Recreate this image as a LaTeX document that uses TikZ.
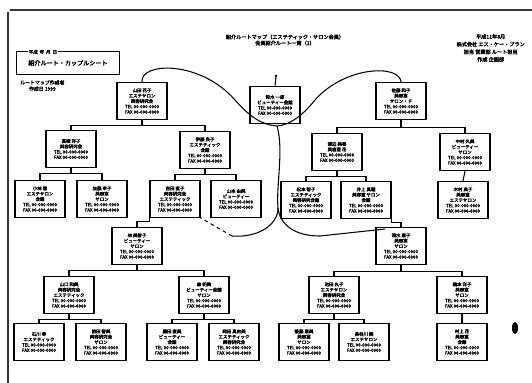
\documentclass[tikz,border=0pt]{standalone}
\usepackage{fontspec}
\newfontfamily\jpfont[FakeBold=3]{Noto Sans CJK JP}
\usepackage{tikz}
\usetikzlibrary{positioning}
\newcommand{\telfax}{TEL\ 00-000-0000\\FAX\ 00-000-0000}

\begin{document}
\begin{tikzpicture}[x=0.3mm, y=-0.3mm, font=\jpfont\fontsize{3.8}{4.6}\selectfont,
  card/.style={draw, line width=1pt, align=center, minimum width=15mm, minimum height=11mm, inner sep=1pt},
  bus/.style={line width=0.9pt},
  swing/.style={line width=0.9pt},
  note/.style={align=center, inner sep=0pt}]
\useasboundingbox (0,0) rectangle (532,383);
% frame of the sheet
\draw[line width=1.4pt, black!80] (10,10) -- (532,10);
\draw[line width=1pt, black!80] (8,12) -- (8,383);
% heading texts
\node[note, font=\jpfont\fontsize{4.4}{5.2}\selectfont] (title) at (285,40) {紹介ルートマップ（エステティック・サロン会員）\\会員紹介ルート一覧（1）};
\node[note, anchor=north east, font=\jpfont\fontsize{4.4}{6.5}\selectfont] (date) at (525,34) {平成11年8月\\株式会社 エス・ケー・プラン\\担当 営業部 ルート担当\\作成 企画部};
\node[draw, line width=0.9pt, minimum width=31mm, minimum height=7mm, font=\jpfont\fontsize{5.2}{6}\selectfont] (tag) at (68,63) {紹介ルート・カップルシート};
\node[fill=white, inner sep=0.5pt, anchor=west] (stamp) at (28,52) {平成\ \ 年\ \ 月\ \ 日};
\node[note, anchor=north west, font=\jpfont\fontsize{4.2}{5.4}\selectfont] (maker) at (20,80) {ルートマップ作成者\\作成日 1999};
% first row
\node[card] (k1) at (142,101) {山田 花子\\エステサロン\\美容研究会\\\telfax};
\node[card] (k2) at (275,105) {鈴木 一郎\\ビューティー会館\\\telfax};
\node[card] (k3) at (401,101) {佐藤 和子\\美容室\\サロン・ド\\\telfax};
\coordinate (top) at (276,76);
\draw[bus] (k2.north) -- (top); \fill (top) circle (1.3);
% second row
\node[card] (a) at (71,149) {高橋 洋子\\美容研究会\\\telfax};
\node[card] (b) at (205,150) {伊藤 良子\\エステティック\\会館\\\telfax};
\node[card] (c) at (337,152) {渡辺 美香\\美容室 花\\\telfax};
\node[card] (d) at (465,152) {中村 久美\\ビューティー\\サロン\\\telfax};
\draw[bus] (k1.south) -- ++(0,6) -| (a.north); \draw[bus] (k1.south) -- ++(0,6) -| (b.north);
\draw[bus] (k3.south) -- ++(0,8) -| (c.north); \draw[bus] (k3.south) -- ++(0,8) -| (d.north);
% third row
\node[card] (e) at (40,199) {小林 恵\\エステサロン\\会館\\\telfax};
\node[card] (f) at (102,199) {加藤 幸子\\美容室\\サロン\\\telfax};
\node[card] (g) at (175,199) {吉田 直子\\美容研究会\\エステティック\\\telfax};
\node[card] (h) at (236,199) {山本 由美\\ビューティー\\\telfax};
\node[card] (i) at (306,200) {松本 智子\\エステティック\\美容研究会館\\\telfax};
\node[card] (j) at (366,200) {井上 真理\\美容室 サロン\\会館\\\telfax};
\node[card] (k) at (463,200) {木村 典子\\美容室\\エステサロン\\\telfax};
\draw[bus] (a.south) -- ++(0,6) -| (e.north); \draw[bus] (a.south) -- ++(0,6) -| (f.north);
\draw[bus] (b.south) -- ++(0,6) -| (g.north); \draw[bus] (b.south) -- ++(0,6) -| (h.north);
\draw[bus] (c.south) -- ++(0,6) -| (i.north); \draw[bus] (c.south) -- ++(0,6) -| (j.north);
\draw[bus] (d.south) -- (k.north);
% fourth row
\node[card] (l) at (137,246) {林 美智子\\ビューティー\\サロン\\\telfax};
\node[card] (m) at (401,246) {清水 恵子\\美容室\\サロン\\\telfax};
\draw[bus] (g.south west) -- ++(0,4) -| (l.north);
\draw[bus] (j.south east) -- ++(0,4) -| (m.north);
% fifth row
\node[card] (n) at (69,295) {山口 和美\\美容研究会\\エステティック\\\telfax};
\node[card] (o) at (204,295) {森 明美\\ビューティー会館\\サロン\\\telfax};
\node[card] (p) at (334,295) {池田 久子\\エステサロン\\美容研究会\\\telfax};
\node[card] (q) at (462,295) {橋本 洋子\\美容室\\サロン\\\telfax};
\draw[bus] (l.south) -- ++(0,6) -| (n.north); \draw[bus] (l.south) -- ++(0,6) -| (o.north);
\draw[bus] (m.south) -- ++(0,7) -| (p.north); \draw[bus] (m.south) -- ++(0,7) -| (q.north);
% sixth row
\node[card] (r) at (39,342) {石川 幸\\エステティック\\\telfax};
\node[card] (s) at (101,342) {前田 智美\\美容研究会\\サロン\\\telfax};
\node[card] (t) at (172,342) {藤田 直美\\ビューティー\\会館\\\telfax};
\node[card] (u) at (234,342) {岡田 真由美\\エステティック\\美容研究会\\\telfax};
\node[card] (v) at (304,342) {後藤 恵美\\美容室\\サロン\\\telfax};
\node[card] (w) at (364,342) {長谷川 舞\\エステサロン\\\telfax};
\node[card] (x) at (462,342) {村上 花\\美容室\\会館\\\telfax};
\draw[bus] (n.south) -- ++(0,6) -| (r.north); \draw[bus] (n.south) -- ++(0,6) -| (s.north);
\draw[bus] (o.south) -- ++(0,6) -| (t.north); \draw[bus] (o.south) -- ++(0,6) -| (u.north);
\draw[bus] (p.south) -- ++(0,6) -| (v.north); \draw[bus] (p.south) -- ++(0,6) -| (w.north);
\draw[bus] (q.south) -- (x.north);
% introduction curves
\coordinate (hub) at (277,126);
\coordinate (split) at (278,208);
\coordinate (gend) at (232,236);
\coordinate (mend) at (385,229);
\draw[swing] (k1.north) .. controls (140,62) and (200,60) .. (235,100) .. controls (250,117) and (262,125) .. (hub);
\draw[swing] (k3.north) .. controls (400,64) and (345,66) .. (315,100) .. controls (302,116) and (290,125) .. (hub);
\draw[swing] (hub) .. controls (284,150) and (276,185) .. (split);
\draw[swing] (split) .. controls (278,225) and (258,238) .. (gend);
\draw[swing, dashed] (gend) -- (g.south east);
\draw[swing] (split) .. controls (280,225) and (295,236) .. (320,236) -- (mend);
\fill (515,328) ellipse (3 and 6);
\end{tikzpicture}
\end{document}
